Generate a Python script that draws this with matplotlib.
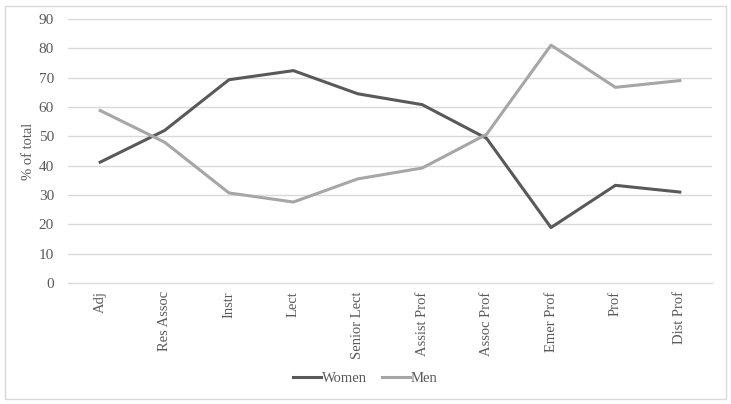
# Anteil von Frauen und Männern nach Position
import matplotlib.pyplot as plt
from matplotlib.patches import Rectangle

positionen = ["Adj", "Res Assoc", "Instr", "Lect", "Senior Lect",
              "Assist Prof", "Assoc Prof", "Emer Prof", "Prof", "Dist Prof"]
frauen = [41.2, 52.0, 69.3, 72.4, 64.5, 60.8, 49.3, 18.9, 33.3, 31.0]
maenner = [58.8, 48.0, 30.7, 27.6, 35.5, 39.2, 50.7, 81.1, 66.7, 69.0]
y_ticks = list(range(0, 100, 10))

plt.rcParams["font.family"] = ["Liberation Serif", "DejaVu Serif"]
textfarbe = "#595959"

fig = plt.figure(figsize=(7.31, 4.04), dpi=100)
ax = fig.add_axes([68 / 731, 1 - 283 / 404, (712 - 68) / 731, (283 - 19) / 404])

x = list(range(len(positionen)))
ax.plot(x, frauen, color="#595959", lw=2.2, label="Women", solid_joinstyle="round")
ax.plot(x, maenner, color="#a6a6a6", lw=2.2, label="Men", solid_joinstyle="round")

ax.set_xlim(-0.5, len(positionen) - 0.5)
ax.set_ylim(0, 90)
ax.set_yticks(y_ticks)
ax.set_xticks(x)
ax.set_xticklabels(positionen, rotation=90, fontsize=10.5, color=textfarbe)
ax.tick_params(axis="y", labelsize=11, labelcolor=textfarbe, length=0, pad=10)
ax.tick_params(axis="x", length=0, pad=6)
ax.grid(axis="y", color="#d9d9d9", lw=1)
ax.set_axisbelow(True)
for s in ["top", "right", "left"]:
    ax.spines[s].set_visible(False)
ax.spines["bottom"].set_color("#d9d9d9")

ax.set_ylabel("% of total", fontsize=10.5, color=textfarbe, labelpad=3)

fig.legend(loc="center", bbox_to_anchor=(0.5, 1 - 378 / 404), ncol=2, frameon=False,
           fontsize=10.5, labelcolor=textfarbe, handlelength=1.9, handletextpad=0.1,
           columnspacing=1.0)

# Rahmen um die Grafik
fig.patches.append(Rectangle((5 / 731, 5 / 404), 721 / 731, 393 / 404,
                             transform=fig.transFigure, fill=False,
                             edgecolor="#d9d9d9", lw=1))

fig.savefig("out.png", dpi=100)
